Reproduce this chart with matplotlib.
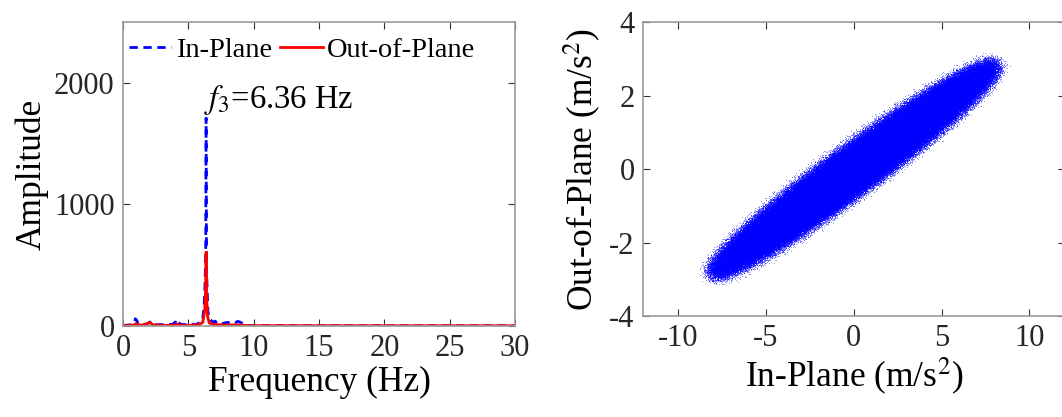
import numpy as np
import matplotlib
matplotlib.use("Agg")
import matplotlib.pyplot as plt

plt.rcParams['font.family'] = ['Liberation Serif', 'DejaVu Serif']
plt.rcParams['mathtext.fontset'] = 'stix'
plt.rcParams['axes.unicode_minus'] = False

# ---- Amplitude spectra (frequency in Hz, amplitude) ----
in_plane_freq = [0.0, 0.4, 0.7, 0.85, 0.95, 1.05, 1.15, 1.3, 1.5, 1.7, 1.9, 2.05, 2.2, 2.35,
                 2.6, 2.9, 3.2, 3.5, 3.8, 4.0, 4.1, 4.2, 4.4, 4.7, 5.0, 5.3, 5.6, 5.9, 6.1,
                 6.2, 6.28, 6.33, 6.36, 6.39, 6.44, 6.5, 6.6, 6.75, 6.9, 7.05, 7.2, 7.4, 7.6,
                 7.8, 8.0, 8.2, 8.4, 8.6, 8.8, 9.0, 9.15, 9.3, 9.6, 10.0, 15.0, 20.0, 30.0]
in_plane_amp = [5, 8, 12, 25, 60, 45, 20, 25, 12, 15, 20, 30, 40, 20,
                10, 12, 8, 12, 15, 30, 55, 35, 15, 12, 10, 15, 12, 30, 60,
                150, 350, 600, 1710, 500, 300, 120, 60, 45, 30, 40, 25, 35, 20,
                25, 30, 25, 35, 30, 38, 30, 20, 8, 5, 3, 2, 2, 2]

out_plane_freq = [0.0, 0.5, 0.9, 1.0, 1.1, 1.4, 1.8, 2.0, 2.1, 2.3, 2.8, 3.5, 4.0, 4.1, 4.3,
                  5.0, 5.8, 6.1, 6.25, 6.32, 6.36, 6.4, 6.47, 6.6, 7.0, 7.5, 8.0, 8.5, 9.0,
                  9.4, 10.0, 30.0]
out_plane_amp = [3, 5, 10, 20, 12, 8, 15, 30, 25, 10, 6, 5, 10, 18, 8,
                 5, 10, 30, 120, 300, 607, 250, 80, 25, 12, 10, 8, 10, 8,
                 4, 3, 2]

f3 = 6.36

# ---- Acceleration components used for the in-plane / out-of-plane orbit ----
mode_freq = [6.3317, 6.3604, 6.4129]   # Hz
mode_amp_in = [3.5, 3.9, 0.8]          # m/s^2
mode_phase = [0.0, 1.1, 2.3]           # rad
out_in_ratio = 0.355
out_lag_deg = 13.5

minor_freq = [1.0137, 2.1071, 4.1213, 7.4191, 8.6243]
minor_amp_in = [0.22, 0.14, 0.2, 0.1, 0.12]
minor_amp_out = [0.08, 0.12, 0.06, 0.04, 0.04]
minor_phase_in = [0.3, 2.0, 1.2, 4.4, 5.1]
minor_phase_out = [1.7, 0.4, 3.3, 2.2, 0.9]

dt = 0.0097
t = np.arange(0.0, 3000.0, dt)
acc_in = np.zeros_like(t)
acc_out = np.zeros_like(t)
lag = np.deg2rad(out_lag_deg)
for f, a, p in zip(mode_freq, mode_amp_in, mode_phase):
    acc_in += a * np.sin(2 * np.pi * f * t + p)
    acc_out += out_in_ratio * a * np.sin(2 * np.pi * f * t + p + lag)
for f, a, b, p, q in zip(minor_freq, minor_amp_in, minor_amp_out, minor_phase_in, minor_phase_out):
    acc_in += a * np.sin(2 * np.pi * f * t + p)
    acc_out += b * np.sin(2 * np.pi * f * t + q)

fig = plt.figure(figsize=(10.62, 4.17), dpi=100)
ax1 = fig.add_axes([0.1158, 0.2182, 0.3692, 0.729])
ax2 = fig.add_axes([0.6055, 0.2422, 0.3969, 0.705])

spine_col = '#9a9a9a'
tick_col = '#333333'
tick_fs = 22
label_fs = 25.5

for ax in (ax1, ax2):
    for s in ax.spines.values():
        s.set_color(spine_col)
        s.set_linewidth(1.2)
    ax.tick_params(direction='in', length=5, width=0.8, color=tick_col,
                   labelsize=tick_fs, labelcolor='#262626',
                   top=True, right=True, pad=6)

# Spectrum
ax1.plot(in_plane_freq, in_plane_amp, color='#0000ff', lw=2.0, ls=(0, (3, 2)), label='In-Plane')
ax1.plot(out_plane_freq, out_plane_amp, color='#ff0000', lw=2.0, label='Out-of-Plane')
ax1.set_xlim(0, 30)
ax1.set_ylim(0, 2500)
ax1.set_xticks([0, 5, 10, 15, 20, 25, 30])
ax1.set_yticks([0, 1000, 2000])
ax1.set_xlabel('Frequency (Hz)', fontsize=label_fs, labelpad=2)
ax1.set_ylabel('Amplitude', fontsize=label_fs, labelpad=4)
ax1.text(6.2, 1795, r'$\mathit{f}_{3}$' + '=%.2f Hz' % f3, fontsize=23.5,
         ha='left', va='baseline')
ax1.legend(loc='upper left', bbox_to_anchor=(0.0, 0.97), ncol=2, frameon=False,
           fontsize=20.5, handlelength=1.5, handletextpad=0.15, columnspacing=0.3,
           borderaxespad=0.0, borderpad=0.2)

# Orbit plot
ax2.plot(acc_in, acc_out, ls='none', marker='.', ms=1.0, mew=0, color='#0000ff', alpha=0.6)
ax2.set_xlim(-12, 12)
ax2.set_ylim(-4, 4)
ax2.set_xticks([-10, -5, 0, 5, 10])
ax2.set_yticks([-4, -2, 0, 2, 4])
ax2.set_xlabel(r'In-Plane (m/s$^2$)', fontsize=label_fs, labelpad=2)
ax2.set_ylabel(r'Out-of-Plane (m/s$^2$)', fontsize=label_fs, labelpad=4)

fig.savefig('out.png', dpi=100)
